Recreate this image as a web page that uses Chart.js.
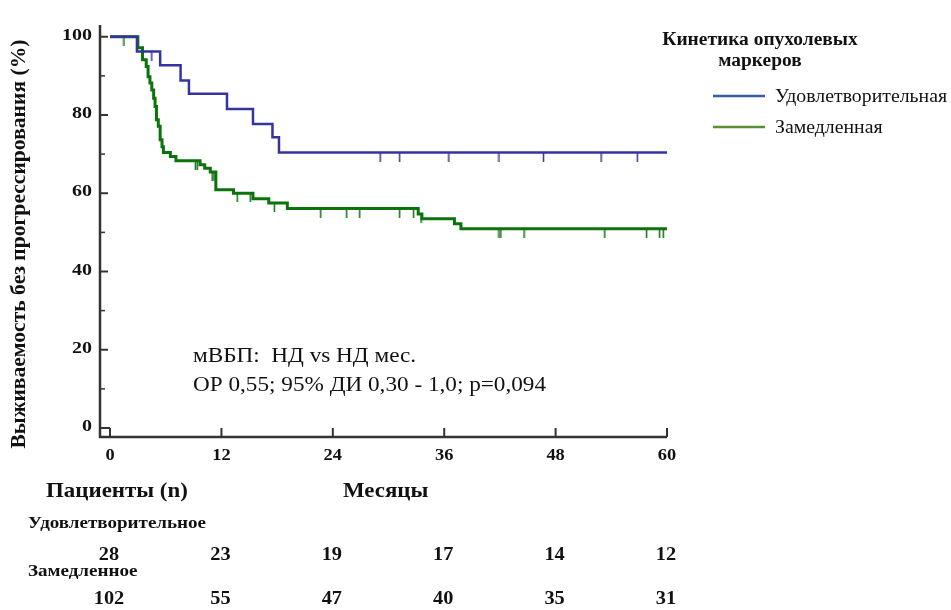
<!DOCTYPE html>
<html>
<head>
<meta charset="utf-8">
<script src="https://cdn.jsdelivr.net/npm/chart.js@4"></script>
<style>
  html, body { margin: 0; padding: 0; background: #fff; }
  #wrap { width: 951px; height: 610px; position: relative; }
</style>
</head>
<body>
<div id="wrap"><canvas id="km"></canvas></div>
<script>
// Кривые Каплана-Мейера: время (мес.) и выживаемость (%)
const blueT = [0, 2.9, 5.4, 7.6, 8.5, 12.6, 15.4, 17.5, 18.2, 60];
const blueS = [100, 96.2, 92.7, 88.8, 85.4, 81.5, 77.7, 74.3, 70.4, 70.4];
const blueCens = [4.5, 29.1, 31.2, 36.5, 41.9, 46.7, 52.9, 56.8];

const greenT = [0, 3.0, 3.5, 3.9, 4.1, 4.3, 4.5, 4.7, 4.85, 5.0, 5.2, 5.4, 5.6, 5.75, 6.5, 7.1, 9.7, 10.2, 10.8, 11.4, 13.3, 15.4, 17.1, 19.1, 33.2, 33.6, 37.1, 37.8, 60];
const greenS = [100, 97.2, 94.1, 92.4, 89.8, 88.2, 86.4, 84.3, 82.2, 78.8, 77.1, 73.7, 71.9, 70.4, 69.4, 68.3, 67.3, 66.4, 65.4, 60.9, 60.0, 58.6, 57.5, 56.1, 54.7, 53.5, 52.2, 50.9, 50.9];
const greenCens = [1.5, 9.2, 9.4, 11.0, 11.2, 13.7, 15.1, 17.7, 22.7, 25.5, 26.9, 31.2, 32.7, 33.5, 41.9, 42.1, 44.6, 53.3, 57.8, 59.2, 59.6];

const xTicks = [0, 12, 24, 36, 48, 60];
const yTicks = [0, 20, 40, 60, 80, 100];
const yMinor = [10, 30, 50, 70, 90];

const groupNames = ["Удовлетворительная", "Замедленная"];
const riskRowNames = ["Удовлетворительное", "Замедленное"];
const riskBlue = [28, 23, 19, 17, 14, 12];
const riskGreen = [102, 55, 47, 40, 35, 31];

const BLUE = "#34349e";
const GREEN = "#0c720c";
const SERIF = "'Liberation Serif', 'Times New Roman', serif";

function toPoints(T, S) {
    return T.map((t, i) => ({ x: t, y: S[i] }));
}

function survAt(T, S, t) {
    let v = S[0];
    for (let i = 0; i < T.length; i++) {
        if (T[i] <= t) v = S[i];
    }
    return v;
}

// метка цензурирования: короткая вертикальная черта вниз от кривой
function censorMark(color) {
    const c = document.createElement("canvas");
    c.width = 3; c.height = 18;
    const g = c.getContext("2d");
    g.strokeStyle = color;
    g.lineWidth = 1.5;
    g.beginPath();
    g.moveTo(1.5, 9);
    g.lineTo(1.5, 18);
    g.stroke();
    return c;
}

// текст с горизонтальным растяжением (в оригинале шрифт немного растянут)
function txt(ctx, s, x, y, font, align, sx) {
    ctx.save();
    ctx.font = font;
    ctx.textAlign = align;
    ctx.translate(x, y);
    ctx.scale(sx, 1);
    ctx.fillText(s, 0, 0);
    ctx.restore();
}

const axesPlugin = {
    id: "axesPlugin",
    afterDraw(chart) {
        const ctx = chart.ctx;
        const ca = chart.chartArea;
        const xs = chart.scales.x;
        const ys = chart.scales.y;
        ctx.save();
        ctx.strokeStyle = "#333";
        ctx.lineWidth = 2.5;
        ctx.beginPath();
        ctx.moveTo(ca.left, ca.top);
        ctx.lineTo(ca.left, ca.bottom);
        ctx.lineTo(ca.right, ca.bottom);
        ctx.stroke();

        ctx.lineWidth = 2;
        ctx.fillStyle = "#111";
        ctx.textBaseline = "middle";
        yTicks.forEach(v => {
            const py = ys.getPixelForValue(v);
            const len = v === 0 ? xs.getPixelForValue(0) - ca.left : 8;
            ctx.beginPath();
            ctx.moveTo(ca.left, py);
            ctx.lineTo(ca.left + len, py);
            ctx.stroke();
            txt(ctx, String(v), ca.left - 8, py - 1, "bold 16px " + SERIF, "right", 1.25);
        });
        ctx.lineWidth = 1.5;
        yMinor.forEach(v => {
            const py = ys.getPixelForValue(v);
            ctx.beginPath();
            ctx.moveTo(ca.left, py);
            ctx.lineTo(ca.left + 5, py);
            ctx.stroke();
        });

        ctx.lineWidth = 2;
        xTicks.forEach(v => {
            const px = xs.getPixelForValue(v);
            const top = v === 0 ? ys.getPixelForValue(0) : ca.bottom - 9;
            ctx.beginPath();
            ctx.moveTo(px, ca.bottom);
            ctx.lineTo(px, top);
            ctx.stroke();
            txt(ctx, String(v), px, ca.bottom + 19, "bold 16px " + SERIF, "center", 1.15);
        });

        // подпись оси Y
        ctx.save();
        ctx.translate(20, 244);
        ctx.rotate(-Math.PI / 2);
        txt(ctx, "Выживаемость без прогрессирования (%)", 0, 0, "bold 20px " + SERIF, "center", 1.08);
        ctx.restore();

        // аннотация
        txt(ctx, "мВБП:  НД vs НД мес.", 193, 357, "20px " + SERIF, "left", 1.16);
        txt(ctx, "ОР 0,55; 95% ДИ 0,30 - 1,0; p=0,094", 193, 386, "20px " + SERIF, "left", 1.16);

        // легенда
        txt(ctx, "Кинетика опухолевых", 760, 40, "bold 18px " + SERIF, "center", 1.08);
        txt(ctx, "маркеров", 760, 61, "bold 18px " + SERIF, "center", 1.08);
        const legColors = ["#3b5aa8", "#5a8f3a"];
        groupNames.forEach((name, i) => {
            const ly = 96 + i * 31;
            ctx.strokeStyle = legColors[i];
            ctx.lineWidth = 2.5;
            ctx.beginPath();
            ctx.moveTo(713, ly);
            ctx.lineTo(765, ly);
            ctx.stroke();
            txt(ctx, name, 775, ly + 1, "18px " + SERIF, "left", 1.1);
        });

        // таблица числа пациентов под риском
        txt(ctx, "Пациенты (n)", 46, 492, "bold 21px " + SERIF, "left", 1.09);
        txt(ctx, "Месяцы", 343, 492, "bold 21px " + SERIF, "left", 1.09);
        txt(ctx, riskRowNames[0], 28, 524, "bold 17px " + SERIF, "left", 1.12);
        txt(ctx, riskRowNames[1], 28, 572, "bold 17px " + SERIF, "left", 1.12);
        xTicks.forEach((v, i) => {
            const px = xs.getPixelForValue(v) - 1;
            txt(ctx, String(riskBlue[i]), px, 555, "bold 18px " + SERIF, "center", 1.13);
            txt(ctx, String(riskGreen[i]), px, 599, "bold 18px " + SERIF, "center", 1.13);
        });
        ctx.restore();
    }
};

new Chart(document.getElementById("km"), {
    type: "line",
    data: {
        datasets: [
            {
                label: groupNames[0],
                data: toPoints(blueT, blueS),
                borderColor: BLUE,
                borderWidth: 2.5,
                stepped: true,
                pointRadius: 0,
                fill: false
            },
            {
                label: groupNames[1],
                data: toPoints(greenT, greenS),
                borderColor: GREEN,
                borderWidth: 3,
                stepped: true,
                pointRadius: 0,
                fill: false
            },
            {
                label: "censor-blue",
                data: blueCens.map(t => ({ x: t, y: survAt(blueT, blueS, t) })),
                showLine: false,
                pointStyle: censorMark(BLUE),
                pointRadius: 5
            },
            {
                label: "censor-green",
                data: greenCens.map(t => ({ x: t, y: survAt(greenT, greenS, t) })),
                showLine: false,
                pointStyle: censorMark(GREEN),
                pointRadius: 5
            }
        ]
    },
    options: {
        responsive: true,
        maintainAspectRatio: false,
        animation: false,
        layout: { padding: { left: 100, top: 25, right: 284, bottom: 173 } },
        plugins: { legend: { display: false }, tooltip: { enabled: false } },
        scales: {
            x: { type: "linear", min: -1.08, max: 60, display: false },
            y: { type: "linear", min: -2.3, max: 103, display: false }
        }
    },
    plugins: [axesPlugin]
});
</script>
</body>
</html>
